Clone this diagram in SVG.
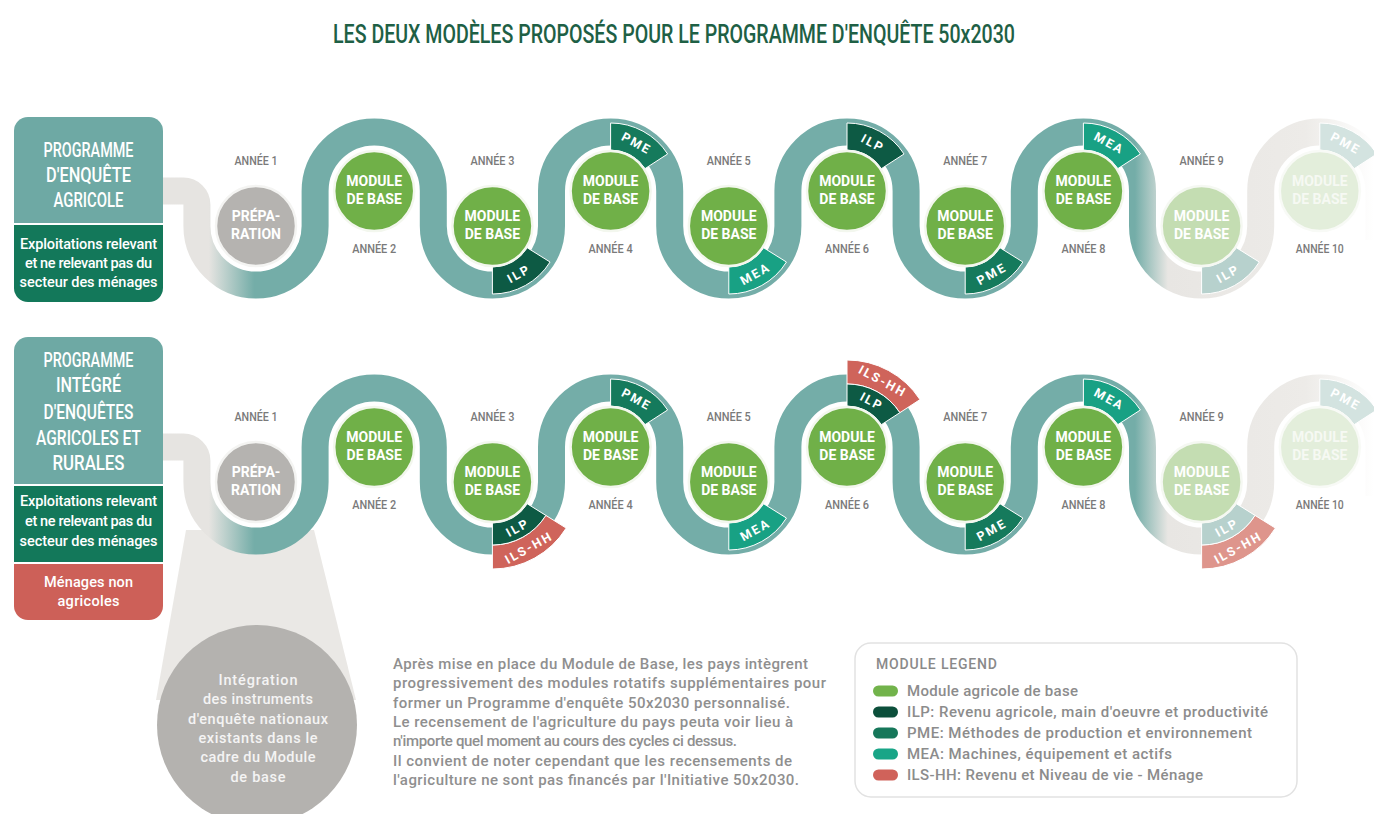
<svg xmlns="http://www.w3.org/2000/svg" xmlns:xlink="http://www.w3.org/1999/xlink" width="1374" height="814" viewBox="0 0 1374 814">
<style>
.title{font-family:Roboto,"Liberation Sans",sans-serif;font-weight:500;font-size:26px;fill:#1E6045}
.hdr{font-family:Roboto,"Liberation Sans",sans-serif;font-weight:500;font-size:20px;fill:#fff;text-anchor:middle}
.sub{font-family:Roboto,"Liberation Sans",sans-serif;font-weight:500;font-size:14.5px;fill:#fff;text-anchor:middle}
.circ{fill:#70B048;stroke:#F3F7EE;stroke-width:2.5}
.circ9{fill:#C4DDB2;stroke:#F5F8F2;stroke-width:2.5}
.circ10{fill:#E3EEDB;stroke:#F8FAF6;stroke-width:2.5}
.prep{fill:#B5B3B0;stroke:#F4F4F2;stroke-width:2.5}
.mt{font-family:Roboto,"Liberation Sans",sans-serif;font-weight:700;font-size:14px;fill:#fff;text-anchor:middle}
.mt10{font-family:Roboto,"Liberation Sans",sans-serif;font-weight:700;font-size:14px;fill:#F6F9F3;text-anchor:middle}
.yr{font-family:Roboto,"Liberation Sans",sans-serif;font-weight:500;font-size:13px;fill:#7A7A7A;text-anchor:middle}
.tt{font-family:Roboto,"Liberation Sans",sans-serif;font-weight:700;font-size:12.5px;fill:#fff;text-anchor:middle;dominant-baseline:central;letter-spacing:2px}
.ilp{fill:#0D5A44;stroke:#fff;stroke-width:1}
.pme{fill:#157A5C;stroke:#fff;stroke-width:1}
.mea{fill:#18A184;stroke:#fff;stroke-width:1}
.ils{fill:#CF645B;stroke:#fff;stroke-width:1}
.ilpf{fill:#B7D1CD;stroke:#fff;stroke-width:1}
.pmef{fill:#D3E3E0;stroke:#fff;stroke-width:1}
.ilsf{fill:#DE958C;stroke:#fff;stroke-width:1}
.track{fill:none;stroke:url(#trackGrad);stroke-width:27}
.body{font-family:Roboto,"Liberation Sans",sans-serif;font-weight:500;font-size:15px;fill:#8F8F8F}
.leg{font-family:Roboto,"Liberation Sans",sans-serif;font-weight:500;font-size:15px;fill:#8C8C8C}
.circtxt{font-family:Roboto,"Liberation Sans",sans-serif;font-weight:500;font-size:14.5px;fill:#F4F4F4;text-anchor:middle}
</style>
<defs>
<linearGradient id="trackGrad" gradientUnits="userSpaceOnUse" x1="0" y1="0" x2="1374" y2="0">
<stop offset="0" stop-color="#E6E4E1"/>
<stop offset="0.152" stop-color="#E6E4E1"/>
<stop offset="0.185" stop-color="#74ADA8"/>
<stop offset="0.826" stop-color="#74ADA8"/>
<stop offset="0.850" stop-color="#E8E6E3"/>
<stop offset="0.950" stop-color="#EDEBE8"/>
<stop offset="1" stop-color="#FFFFFF"/>
</linearGradient>
<path id="tagB" d="M0,68 A68,68 0 0 0 57.66,36.03 L34.77,21.73 A41,41 0 0 1 0,41 Z"/>
<path id="tagT" d="M0,-68 A68,68 0 0 1 57.03,-37.03 L34.39,-22.33 A41,41 0 0 0 0,-41 Z"/>
<path id="tagB1" d="M0,63 A63,63 0 0 0 53.42,33.38 L34.77,21.73 A41,41 0 0 1 0,41 Z"/>
<path id="tagB2" d="M0,87 A87,87 0 0 0 73.78,46.10 L53.42,33.38 A63,63 0 0 1 0,63 Z"/>
<path id="tagT1" d="M0,-63 A63,63 0 0 1 52.84,-34.31 L34.39,-22.33 A41,41 0 0 0 0,-41 Z"/>
<path id="tagT2" d="M0,-87 A87,87 0 0 1 72.97,-47.38 L52.84,-34.31 A63,63 0 0 0 0,-63 Z"/>
<path id="trackPath" d="M150,191 H183.4 A13.5,13.5 0 0 1 196.9,204.5 V226 A59.1,59.1 0 0 0 315.1,226 V191 A59.1,59.1 0 0 1 433.3,191 V226 A59.1,59.1 0 0 0 551.5,226 V191 A59.1,59.1 0 0 1 669.7,191 V226 A59.1,59.1 0 0 0 787.9,226 V191 A59.1,59.1 0 0 1 906.1,191 V226 A59.1,59.1 0 0 0 1024.3,226 V191 A59.1,59.1 0 0 1 1142.5,191 V226 A59.1,59.1 0 0 0 1260.7,226 V191 A59.1,59.1 0 0 1 1378.9,191 V240"/>
</defs>
<rect width="1374" height="814" fill="#fff"/>

<text id="title" class="title" x="333" y="43" textLength="682" lengthAdjust="spacingAndGlyphs">LES DEUX MODÈLES PROPOSÉS POUR LE PROGRAMME D'ENQUÊTE 50x2030</text>

<!-- funnel + integration circle -->
<g id="integration">
<polygon points="186,530 314,530 356,700 156,700" fill="#EAE8E5"/>
<circle cx="257" cy="725" r="100" fill="#B4B2AF"/>
<text class="circtxt" x="258" y="685" textLength="79">Intégration</text>
<text class="circtxt" x="258" y="704" textLength="110">des instruments</text>
<text class="circtxt" x="258" y="724" textLength="140">d'enquête nationaux</text>
<text class="circtxt" x="258" y="743" textLength="119">existants dans le</text>
<text class="circtxt" x="258" y="762" textLength="115">cadre du Module</text>
<text class="circtxt" x="258" y="782" textLength="55">de base</text>
</g>

<g id="connectors">
<use href="#trackPath" class="track"/>
<use href="#trackPath" class="track" transform="translate(0,256)"/>
</g>

<!-- Row 1 left box -->
<g id="box1">
<path d="M14,223 V131 A14,14 0 0 1 28,117 H149 A14,14 0 0 1 163,131 V223 Z" fill="#6EA9A4"/>
<path d="M14,225 H163 V288 A14,14 0 0 1 149,302 H28 A14,14 0 0 1 14,288 Z" fill="#13785A"/>
<text class="hdr" x="88.5" y="157" textLength="90" lengthAdjust="spacingAndGlyphs">PROGRAMME</text>
<text class="hdr" x="88.5" y="182" textLength="85" lengthAdjust="spacingAndGlyphs">D'ENQUÊTE</text>
<text class="hdr" x="88.5" y="207" textLength="70" lengthAdjust="spacingAndGlyphs">AGRICOLE</text>
<text class="sub" x="88.5" y="249" textLength="137">Exploitations relevant</text>
<text class="sub" x="88.5" y="268" textLength="127">et ne relevant pas du</text>
<text class="sub" x="88.5" y="287" textLength="138">secteur des ménages</text>
</g>

<!-- Row 2 left box -->
<g id="box2">
<path d="M14,484 V351 A14,14 0 0 1 28,337 H149 A14,14 0 0 1 163,351 V484 Z" fill="#6EA9A4"/>
<path d="M14,486 H163 V562 H14 Z" fill="#13785A"/>
<path d="M14,564 H163 V606 A14,14 0 0 1 149,620 H28 A14,14 0 0 1 14,606 Z" fill="#CD6058"/>
<text class="hdr" x="88.5" y="367" textLength="90" lengthAdjust="spacingAndGlyphs">PROGRAMME</text>
<text class="hdr" x="88.5" y="392" textLength="65" lengthAdjust="spacingAndGlyphs">INTÉGRÉ</text>
<text class="hdr" x="88.5" y="419" textLength="90" lengthAdjust="spacingAndGlyphs">D'ENQUÊTES</text>
<text class="hdr" x="88.5" y="445" textLength="105" lengthAdjust="spacingAndGlyphs">AGRICOLES ET</text>
<text class="hdr" x="88.5" y="470" textLength="72" lengthAdjust="spacingAndGlyphs">RURALES</text>
<text class="sub" x="88.5" y="506" textLength="137">Exploitations relevant</text>
<text class="sub" x="88.5" y="526" textLength="127">et ne relevant pas du</text>
<text class="sub" x="88.5" y="546" textLength="138">secteur des ménages</text>
<text class="sub" x="88.5" y="587" textLength="89">Ménages non</text>
<text class="sub" x="88.5" y="606" textLength="62">agricoles</text>
</g>

<!-- ROW 1 -->
<g id="r1-y1"><circle class="prep" cx="256" cy="226" r="40"/><text class="mt" x="256" y="221">PRÉPA-</text><text class="mt" x="256" y="239">RATION</text><text class="yr" x="256" y="165" textLength="43" lengthAdjust="spacingAndGlyphs">ANNÉE 1</text></g>
<g id="r1-y2"><circle class="circ" cx="374.2" cy="191" r="40"/><text class="mt" x="374.2" y="186">MODULE</text><text class="mt" x="374.2" y="204">DE BASE</text><text class="yr" x="374.2" y="253" textLength="44" lengthAdjust="spacingAndGlyphs">ANNÉE 2</text></g>
<g id="r1-y3"><g transform="translate(492.4,226)"><use href="#tagB" class="ilp"/><text class="tt" transform="translate(26.4,47.7) rotate(-29)">ILP</text></g><circle class="circ" cx="492.4" cy="226" r="40"/><text class="mt" x="492.4" y="221">MODULE</text><text class="mt" x="492.4" y="239">DE BASE</text><text class="yr" x="492.4" y="165" textLength="44" lengthAdjust="spacingAndGlyphs">ANNÉE 3</text></g>
<g id="r1-y4"><g transform="translate(610.6,191)"><use href="#tagT" class="pme"/><text class="tt" transform="translate(26,-47.9) rotate(28.5)">PME</text></g><circle class="circ" cx="610.6" cy="191" r="40"/><text class="mt" x="610.6" y="186">MODULE</text><text class="mt" x="610.6" y="204">DE BASE</text><text class="yr" x="610.6" y="253" textLength="44" lengthAdjust="spacingAndGlyphs">ANNÉE 4</text></g>
<g id="r1-y5"><g transform="translate(728.8,226)"><use href="#tagB" class="mea"/><text class="tt" transform="translate(26.4,47.7) rotate(-29)">MEA</text></g><circle class="circ" cx="728.8" cy="226" r="40"/><text class="mt" x="728.8" y="221">MODULE</text><text class="mt" x="728.8" y="239">DE BASE</text><text class="yr" x="728.8" y="165" textLength="44" lengthAdjust="spacingAndGlyphs">ANNÉE 5</text></g>
<g id="r1-y6"><g transform="translate(847,191)"><use href="#tagT" class="ilp"/><text class="tt" transform="translate(26,-47.9) rotate(28.5)">ILP</text></g><circle class="circ" cx="847" cy="191" r="40"/><text class="mt" x="847" y="186">MODULE</text><text class="mt" x="847" y="204">DE BASE</text><text class="yr" x="847" y="253" textLength="44" lengthAdjust="spacingAndGlyphs">ANNÉE 6</text></g>
<g id="r1-y7"><g transform="translate(965.2,226)"><use href="#tagB" class="pme"/><text class="tt" transform="translate(26.4,47.7) rotate(-29)">PME</text></g><circle class="circ" cx="965.2" cy="226" r="40"/><text class="mt" x="965.2" y="221">MODULE</text><text class="mt" x="965.2" y="239">DE BASE</text><text class="yr" x="965.2" y="165" textLength="44" lengthAdjust="spacingAndGlyphs">ANNÉE 7</text></g>
<g id="r1-y8"><g transform="translate(1083.4,191)"><use href="#tagT" class="mea"/><text class="tt" transform="translate(26,-47.9) rotate(28.5)">MEA</text></g><circle class="circ" cx="1083.4" cy="191" r="40"/><text class="mt" x="1083.4" y="186">MODULE</text><text class="mt" x="1083.4" y="204">DE BASE</text><text class="yr" x="1083.4" y="253" textLength="44" lengthAdjust="spacingAndGlyphs">ANNÉE 8</text></g>
<g id="r1-y9"><g transform="translate(1201.6,226)"><use href="#tagB" class="ilpf"/><text class="tt" transform="translate(26.4,47.7) rotate(-29)">ILP</text></g><circle class="circ9" cx="1201.6" cy="226" r="40"/><text class="mt" x="1201.6" y="221">MODULE</text><text class="mt" x="1201.6" y="239">DE BASE</text><text class="yr" x="1201.6" y="165" textLength="44" lengthAdjust="spacingAndGlyphs">ANNÉE 9</text></g>
<g id="r1-y10"><g transform="translate(1319.8,191)"><use href="#tagT" class="pmef"/><text class="tt" transform="translate(26,-47.9) rotate(28.5)">PME</text></g><circle class="circ10" cx="1319.8" cy="191" r="40"/><text class="mt10" x="1319.8" y="186">MODULE</text><text class="mt10" x="1319.8" y="204">DE BASE</text><text class="yr" x="1319.8" y="253" textLength="48" lengthAdjust="spacingAndGlyphs">ANNÉE 10</text></g>

<!-- ROW 2 -->
<g id="r2-y1"><circle class="prep" cx="256" cy="482" r="40"/><text class="mt" x="256" y="477">PRÉPA-</text><text class="mt" x="256" y="495">RATION</text><text class="yr" x="256" y="421" textLength="43" lengthAdjust="spacingAndGlyphs">ANNÉE 1</text></g>
<g id="r2-y2"><circle class="circ" cx="374.2" cy="447" r="40"/><text class="mt" x="374.2" y="442">MODULE</text><text class="mt" x="374.2" y="460">DE BASE</text><text class="yr" x="374.2" y="509" textLength="44" lengthAdjust="spacingAndGlyphs">ANNÉE 2</text></g>
<g id="r2-y3"><g transform="translate(492.4,482)"><use href="#tagB2" class="ils"/><use href="#tagB1" class="ilp"/><text class="tt" transform="translate(25.2,45.5) rotate(-29)">ILP</text><text class="tt" transform="translate(36.4,65.6) rotate(-29)">ILS-HH</text></g><circle class="circ" cx="492.4" cy="482" r="40"/><text class="mt" x="492.4" y="477">MODULE</text><text class="mt" x="492.4" y="495">DE BASE</text><text class="yr" x="492.4" y="421" textLength="44" lengthAdjust="spacingAndGlyphs">ANNÉE 3</text></g>
<g id="r2-y4"><g transform="translate(610.6,447)"><use href="#tagT" class="pme"/><text class="tt" transform="translate(26,-47.9) rotate(28.5)">PME</text></g><circle class="circ" cx="610.6" cy="447" r="40"/><text class="mt" x="610.6" y="442">MODULE</text><text class="mt" x="610.6" y="460">DE BASE</text><text class="yr" x="610.6" y="509" textLength="44" lengthAdjust="spacingAndGlyphs">ANNÉE 4</text></g>
<g id="r2-y5"><g transform="translate(728.8,482)"><use href="#tagB" class="mea"/><text class="tt" transform="translate(26.4,47.7) rotate(-29)">MEA</text></g><circle class="circ" cx="728.8" cy="482" r="40"/><text class="mt" x="728.8" y="477">MODULE</text><text class="mt" x="728.8" y="495">DE BASE</text><text class="yr" x="728.8" y="421" textLength="44" lengthAdjust="spacingAndGlyphs">ANNÉE 5</text></g>
<g id="r2-y6"><g transform="translate(847,447)"><use href="#tagT2" class="ils"/><use href="#tagT1" class="ilp"/><text class="tt" transform="translate(24.8,-45.7) rotate(28.5)">ILP</text><text class="tt" transform="translate(35.8,-65.9) rotate(28.5)">ILS-HH</text></g><circle class="circ" cx="847" cy="447" r="40"/><text class="mt" x="847" y="442">MODULE</text><text class="mt" x="847" y="460">DE BASE</text><text class="yr" x="847" y="509" textLength="44" lengthAdjust="spacingAndGlyphs">ANNÉE 6</text></g>
<g id="r2-y7"><g transform="translate(965.2,482)"><use href="#tagB" class="pme"/><text class="tt" transform="translate(26.4,47.7) rotate(-29)">PME</text></g><circle class="circ" cx="965.2" cy="482" r="40"/><text class="mt" x="965.2" y="477">MODULE</text><text class="mt" x="965.2" y="495">DE BASE</text><text class="yr" x="965.2" y="421" textLength="44" lengthAdjust="spacingAndGlyphs">ANNÉE 7</text></g>
<g id="r2-y8"><g transform="translate(1083.4,447)"><use href="#tagT" class="mea"/><text class="tt" transform="translate(26,-47.9) rotate(28.5)">MEA</text></g><circle class="circ" cx="1083.4" cy="447" r="40"/><text class="mt" x="1083.4" y="442">MODULE</text><text class="mt" x="1083.4" y="460">DE BASE</text><text class="yr" x="1083.4" y="509" textLength="44" lengthAdjust="spacingAndGlyphs">ANNÉE 8</text></g>
<g id="r2-y9"><g transform="translate(1201.6,482)"><use href="#tagB2" class="ilsf"/><use href="#tagB1" class="ilpf"/><text class="tt" transform="translate(25.2,45.5) rotate(-29)">ILP</text><text class="tt" transform="translate(36.4,65.6) rotate(-29)">ILS-HH</text></g><circle class="circ9" cx="1201.6" cy="482" r="40"/><text class="mt" x="1201.6" y="477">MODULE</text><text class="mt" x="1201.6" y="495">DE BASE</text><text class="yr" x="1201.6" y="421" textLength="44" lengthAdjust="spacingAndGlyphs">ANNÉE 9</text></g>
<g id="r2-y10"><g transform="translate(1319.8,447)"><use href="#tagT" class="pmef"/><text class="tt" transform="translate(26,-47.9) rotate(28.5)">PME</text></g><circle class="circ10" cx="1319.8" cy="447" r="40"/><text class="mt10" x="1319.8" y="442">MODULE</text><text class="mt10" x="1319.8" y="460">DE BASE</text><text class="yr" x="1319.8" y="509" textLength="48" lengthAdjust="spacingAndGlyphs">ANNÉE 10</text></g>

<!-- paragraph -->
<g id="note">
<text class="body" x="393" y="669" textLength="415">Après mise en place du Module de Base, les pays intègrent</text>
<text class="body" x="393" y="688.3" textLength="433">progressivement des modules rotatifs supplémentaires pour</text>
<text class="body" x="393" y="707.6" textLength="397">former un Programme d'enquête 50x2030 personnalisé.</text>
<text class="body" x="393" y="726.9" textLength="400">Le recensement de l'agriculture du pays peuta voir lieu à</text>
<text class="body" x="393" y="746.2" textLength="344">n'importe quel moment au cours des cycles ci dessus.</text>
<text class="body" x="393" y="765.5" textLength="399">Il convient de noter cependant que les recensements de</text>
<text class="body" x="393" y="784.8" textLength="406">l'agriculture ne sont pas financés par l'Initiative 50x2030.</text>
</g>

<!-- legend -->
<g id="legend">
<rect x="855" y="643" width="442" height="154" rx="16" fill="#fff" stroke="#E2E2E2" stroke-width="1.5"/>
<text x="876" y="669" font-family="Roboto, 'Liberation Sans', sans-serif" font-weight="500" font-size="14" fill="#8A8A8A" textLength="121">MODULE LEGEND</text>
<rect x="873" y="685.5" width="25" height="11" rx="5.5" fill="#72B34B"/>
<rect x="873" y="706.5" width="25" height="11" rx="5.5" fill="#0C4F3B"/>
<rect x="873" y="727.5" width="25" height="11" rx="5.5" fill="#16775A"/>
<rect x="873" y="748.5" width="25" height="11" rx="5.5" fill="#19A587"/>
<rect x="873" y="769.5" width="25" height="11" rx="5.5" fill="#D0625A"/>
<text class="leg" x="907" y="696" textLength="171">Module agricole de base</text>
<text class="leg" x="907" y="717" textLength="361">ILP: Revenu agricole, main d'oeuvre et productivité</text>
<text class="leg" x="907" y="738" textLength="345">PME: Méthodes de production et environnement</text>
<text class="leg" x="907" y="759" textLength="265">MEA: Machines, équipement et actifs</text>
<text class="leg" x="907" y="780" textLength="296">ILS-HH: Revenu et Niveau de vie - Ménage</text>
</g>
</svg>
